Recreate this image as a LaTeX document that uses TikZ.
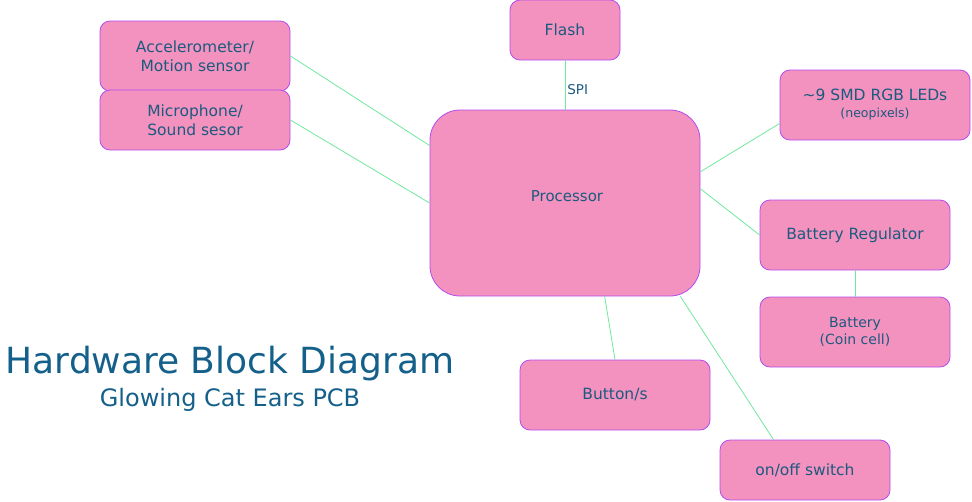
\documentclass[tikz,border=0pt]{standalone}
\usepackage{fontspec}
\setmainfont{DejaVu Sans}
\definecolor{boxfill}{HTML}{F492BF}
\definecolor{boxline}{HTML}{B44BF0}
\definecolor{txt}{HTML}{1B5A7F}
\definecolor{ttl}{HTML}{14608A}
\definecolor{wire}{HTML}{70E89C}
\begin{document}
\begin{tikzpicture}[x=1pt,y=-1pt,
  blk/.style={draw=boxline,fill=boxfill,line width=0.8pt,rounded corners=10pt,
    inner sep=0pt,text=txt,align=center,font=\fontsize{15.5}{19}\selectfont},
  wirel/.style={draw=wire,line width=0.8pt}]
\useasboundingbox (0,0) rectangle (972,501);
\node[blk,minimum width=190pt,minimum height=70pt] (acc) at (195,56) {Accelerometer/\\Motion sensor};
\node[blk,minimum width=190pt,minimum height=60pt] (mic) at (195,120) {Microphone/\\Sound sesor};
\node[blk,minimum width=110pt,minimum height=60pt] (flash) at (565,30) {Flash};
\node[blk,minimum width=190pt,minimum height=70pt] (led) at (875,105) {\textasciitilde9 SMD RGB LEDs\\[-2pt]{\fontsize{12.5}{15}\selectfont(neopixels)}};
\node[blk,minimum width=270pt,minimum height=186pt,rounded corners=30pt] (proc) at (565,203) {};
\node[text=txt,font=\fontsize{15}{18}\selectfont] (proclbl) at (567,196) {Processor};
\node[blk,minimum width=190pt,minimum height=70pt] (reg) at (855,235) {Battery Regulator};
\node[blk,minimum width=190pt,minimum height=70pt,font=\fontsize{14}{17}\selectfont] (bat) at (855,332) {Battery\\(Coin cell)};
\node[blk,minimum width=190pt,minimum height=70pt] (btn) at (615,395) {Button/s};
\node[blk,minimum width=170pt,minimum height=60pt] (sw) at (805,470) {on/off switch};
\node[text=ttl,font=\fontsize{36}{40}\selectfont,inner sep=0pt] (title) at (230,364) {Hardware Block Diagram};
\node[text=ttl,font=\fontsize{24}{28}\selectfont,inner sep=0pt] (sub) at (230,400) {Glowing Cat Ears PCB};
\draw[wirel] (acc.east) -- (proc.157);
\draw[wirel] (mic.east) -- (proc.west);
\draw[wirel] (flash.south) -- node[right,text=txt,font=\fontsize{13.5}{16}\selectfont,inner sep=2pt,yshift=-5pt] (spi) {SPI} (proc.north);
\draw[wirel] (led.191) -- (proc.13);
\draw[wirel] (reg.west) -- (proc.6);
\draw[wirel] (reg.south) -- (bat.north);
\draw[wirel] (proc.-67) -- (btn.north);
\draw[wirel] (proc.-39) -- (sw.136);
\end{tikzpicture}
\end{document}
